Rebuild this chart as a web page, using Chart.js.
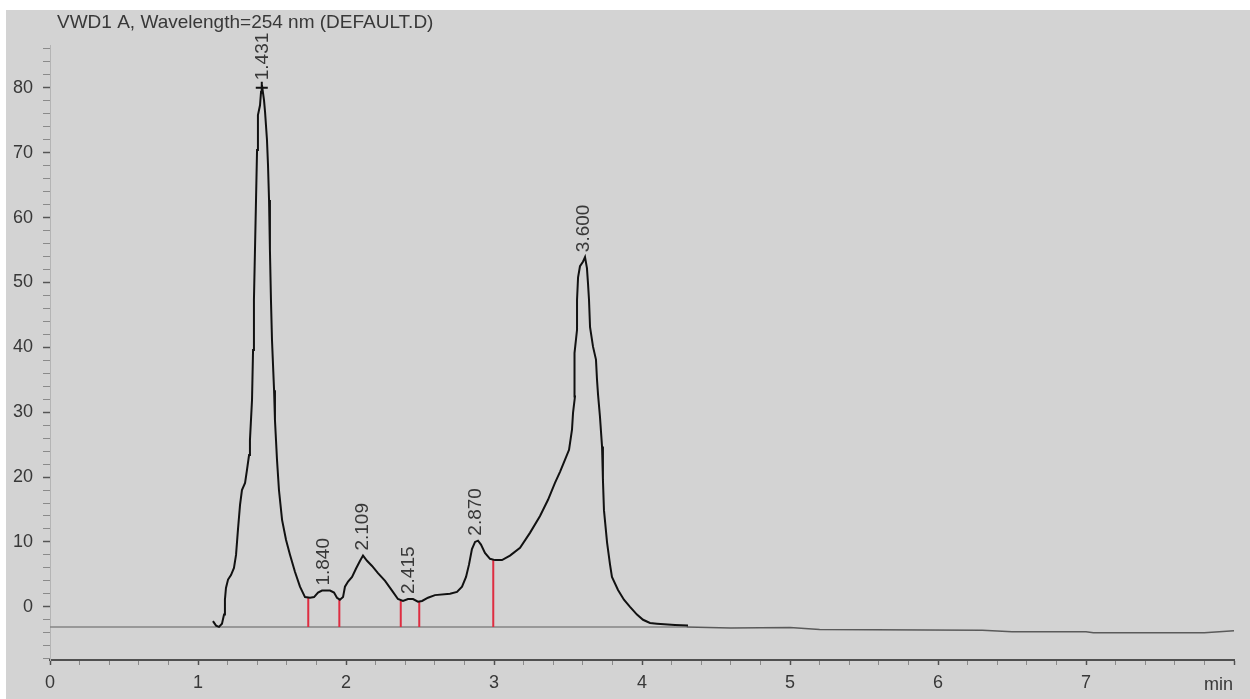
<!DOCTYPE html>
<html>
<head>
<meta charset="utf-8">
<title>VWD1 A chromatogram</title>
<script src="https://cdn.jsdelivr.net/npm/chart.js@4.4.1/dist/chart.umd.min.js"></script>
<style>
  html, body { margin: 0; padding: 0; background: #fff; }
  #wrap { position: absolute; left: 6px; top: 10px; width: 1244px; height: 689px; background: #d3d3d3; }
</style>
</head>
<body>
<div id="wrap"><canvas id="chart" width="1244" height="689"></canvas></div>
<script>
// signal trace (min, mAU)
const traceTime = [
  1.101, 1.122, 1.142, 1.162, 1.176, 1.182, 1.189, 1.203, 1.223, 1.243,
  1.257, 1.270, 1.284, 1.297, 1.318, 1.331, 1.345, 1.351, 1.365, 1.372,
  1.378, 1.385, 1.392, 1.399, 1.405, 1.419, 1.426, 1.432, 1.446, 1.453,
  1.466, 1.473, 1.480, 1.486, 1.493, 1.500, 1.514, 1.520, 1.534, 1.547,
  1.568, 1.595, 1.622, 1.655, 1.689, 1.723, 1.757, 1.784, 1.811, 1.838,
  1.892, 1.919, 1.939, 1.959, 1.980, 1.993, 2.014, 2.041, 2.068, 2.095,
  2.115, 2.142, 2.176, 2.216, 2.264, 2.311, 2.351, 2.385, 2.419, 2.453,
  2.486, 2.514, 2.554, 2.601, 2.703, 2.750, 2.784, 2.811, 2.831, 2.851,
  2.872, 2.892, 2.912, 2.939, 2.973, 3.007, 3.054, 3.108, 3.176, 3.243,
  3.311, 3.365, 3.412, 3.446, 3.480, 3.507, 3.527, 3.534, 3.547, 3.541,
  3.547, 3.561, 3.561, 3.568, 3.581, 3.601, 3.615, 3.628, 3.635, 3.642,
  3.649, 3.669, 3.689, 3.696, 3.703, 3.716, 3.730, 3.736, 3.743, 3.764,
  3.784, 3.797, 3.838, 3.878, 3.919, 3.966, 4.007, 4.054, 4.101, 4.223,
  4.311
];
const traceSignal = [
  -2.2, -2.9, -3.1, -2.6, -1.2, 1.1, 2.9, 4.2, 4.9, 6.0,
  8.0, 11.9, 15.7, 18.0, 19.1, 21.1, 23.4, 25.7, 31.9, 39.6,
  47.3, 55.0, 62.7, 70.4, 75.8, 77.3, 79.4, 80.4, 78.1, 76.3,
  72.0, 68.1, 62.7, 55.0, 47.3, 41.1, 33.4, 28.8, 22.6, 18.0,
  13.4, 10.3, 8.0, 5.4, 3.1, 1.5, 1.4, 1.5, 2.2, 2.5,
  2.5, 2.2, 1.4, 1.1, 1.5, 3.1, 3.9, 4.6, 5.9, 7.1,
  7.9, 7.1, 6.3, 5.2, 4.0, 2.5, 1.2, 0.9, 1.2, 1.2,
  0.8, 0.9, 1.4, 1.8, 2.0, 2.3, 3.1, 4.6, 6.5, 8.9,
  10.0, 10.2, 9.6, 8.3, 7.4, 7.2, 7.2, 7.9, 9.1, 11.4,
  14.0, 16.5, 19.1, 20.8, 22.7, 24.2, 27.3, 29.9, 32.4, 35.0,
  39.1, 42.7, 47.3, 50.8, 52.5, 53.2, 53.9, 52.2, 49.9, 47.3,
  43.1, 40.1, 38.1, 35.0, 32.7, 29.3, 24.7, 19.6, 14.9, 9.9,
  6.5, 4.6, 2.6, 1.1, 0.0, -1.2, -2.0, -2.5, -2.6, -2.8,
  -2.9
];

// drifting baseline
const baseTime = [0, 4.3, 4.6, 5.0, 5.2, 6.3, 6.5, 7.0, 7.05, 7.8, 8.0];
const baseSignal = [-3.1, -3.1, -3.25, -3.2, -3.5, -3.6, -3.85, -3.85, -4.0, -4.0, -3.7];

// integration markers (red drop lines)
const markerTimes = [1.745, 1.955, 2.370, 2.495, 2.995];
const markerTops = [1.4, 1.1, 0.9, 0.9, 7.2];
const markerBottom = -3.1;

// peak retention time labels
const peakTimes = [1.431, 1.840, 2.109, 2.415, 2.870, 3.600];
const peakHeights = [80.4, 2.5, 7.9, 1.2, 10.2, 53.9];
const peakLabels = ['1.431', '1.840', '2.109', '2.415', '2.870', '3.600'];

const xLabels = [0, 1, 2, 3, 4, 5, 6, 7];
const yLabels = [0, 10, 20, 30, 40, 50, 60, 70, 80];
const chartTitle = 'VWD1 A, Wavelength=254 nm (DEFAULT.D)';
const xUnit = 'min';

const font = '"Liberation Sans", Arial, sans-serif';
const textColor = '#383838';

const pts = (xs, ys) => xs.map((v, i) => ({ x: v, y: ys[i] }));

const datasets = [];
datasets.push({
    data: pts(traceTime, traceSignal),
    borderColor: '#111',
    borderWidth: 2,
    pointRadius: 0,
    tension: 0
});
datasets.push({
    data: [{ x: peakTimes[0], y: 80 }],
    showLine: false,
    pointStyle: 'cross',
    pointRadius: 6,
    borderColor: '#111',
    borderWidth: 2
});
markerTimes.forEach((t, i) => {
    datasets.push({
        data: [{ x: t, y: markerTops[i] }, { x: t, y: markerBottom }],
        borderColor: 'rgb(222, 45, 65)',
        borderWidth: 2,
        pointRadius: 0
    });
});
datasets.push({
    data: pts(baseTime, baseSignal),
    borderColor: '#7e7e7e',
    borderWidth: 1.5,
    pointRadius: 0,
    // past the end of the run the trace continues as a darker line
    segment: { borderColor: c => c.p0.parsed.x >= 4.3 ? '#5a5a5a' : '#858585' }
});

const annotate = {
    id: 'annotate',
    afterDatasetsDraw(chart) {
        const { ctx, chartArea } = chart;
        const x = chart.scales.x, y = chart.scales.y;
        ctx.save();
        ctx.fillStyle = textColor;
        ctx.textBaseline = 'middle';
        ctx.textAlign = 'left';
        ctx.font = '19px ' + font;
        ctx.fillText(chartTitle, chartArea.left + 7, 13);
        ctx.font = '18px ' + font;
        ctx.textAlign = 'right';
        ctx.fillText(xUnit, chartArea.right - 1, chartArea.bottom + 25);
        ctx.font = '19px ' + font;
        peakTimes.forEach((t, i) => {
            ctx.save();
            ctx.translate(x.getPixelForValue(t), y.getPixelForValue(peakHeights[i]) - 5);
            ctx.rotate(-Math.PI / 2);
            ctx.textAlign = 'left';
            ctx.fillText(peakLabels[i], 0, 1);
            ctx.restore();
        });
        ctx.restore();
    }
};

new Chart(document.getElementById('chart'), {
    type: 'line',
    data: { datasets: datasets },
    plugins: [annotate],
    options: {
        responsive: false,
        devicePixelRatio: 1,
        animation: false,
        layout: { padding: { left: 0, top: 35, right: 16, bottom: 0 } },
        plugins: {
            legend: { display: false },
            tooltip: { enabled: false },
            title: { display: false }
        },
        scales: {
            x: {
                type: 'linear',
                min: 0,
                max: 8,
                afterFit: s => { s.height = 39; },
                border: { color: '#505050', width: 2 },
                grid: {
                    drawOnChartArea: false,
                    tickLength: 5,
                    tickColor: c => Number.isInteger(c.tick.value) ? '#505050' : '#8a8a8a',
                    tickWidth: c => Number.isInteger(c.tick.value) ? 1.5 : 1
                },
                ticks: {
                    stepSize: 0.2,
                    includeBounds: false,
                    autoSkip: false,
                    maxRotation: 0,
                    padding: 7,
                    color: textColor,
                    font: { family: font, size: 18 },
                    callback: v => xLabels.includes(v) ? String(v) : ''
                }
            },
            y: {
                type: 'linear',
                min: -8.2,
                max: 86.6,
                afterFit: s => { s.width = 44; },
                border: { color: '#b4b4b4', width: 1 },
                grid: {
                    drawOnChartArea: false,
                    tickLength: 7,
                    tickColor: c => c.tick.value % 10 === 0 ? '#555' : '#8a8a8a',
                    tickWidth: c => c.tick.value % 10 === 0 ? 1.5 : 1
                },
                ticks: {
                    stepSize: 2,
                    includeBounds: false,
                    autoSkip: false,
                    padding: 10,
                    color: textColor,
                    font: { family: font, size: 18 },
                    callback: v => yLabels.includes(v) ? String(v) : ''
                }
            }
        }
    }
});
</script>
</body>
</html>
